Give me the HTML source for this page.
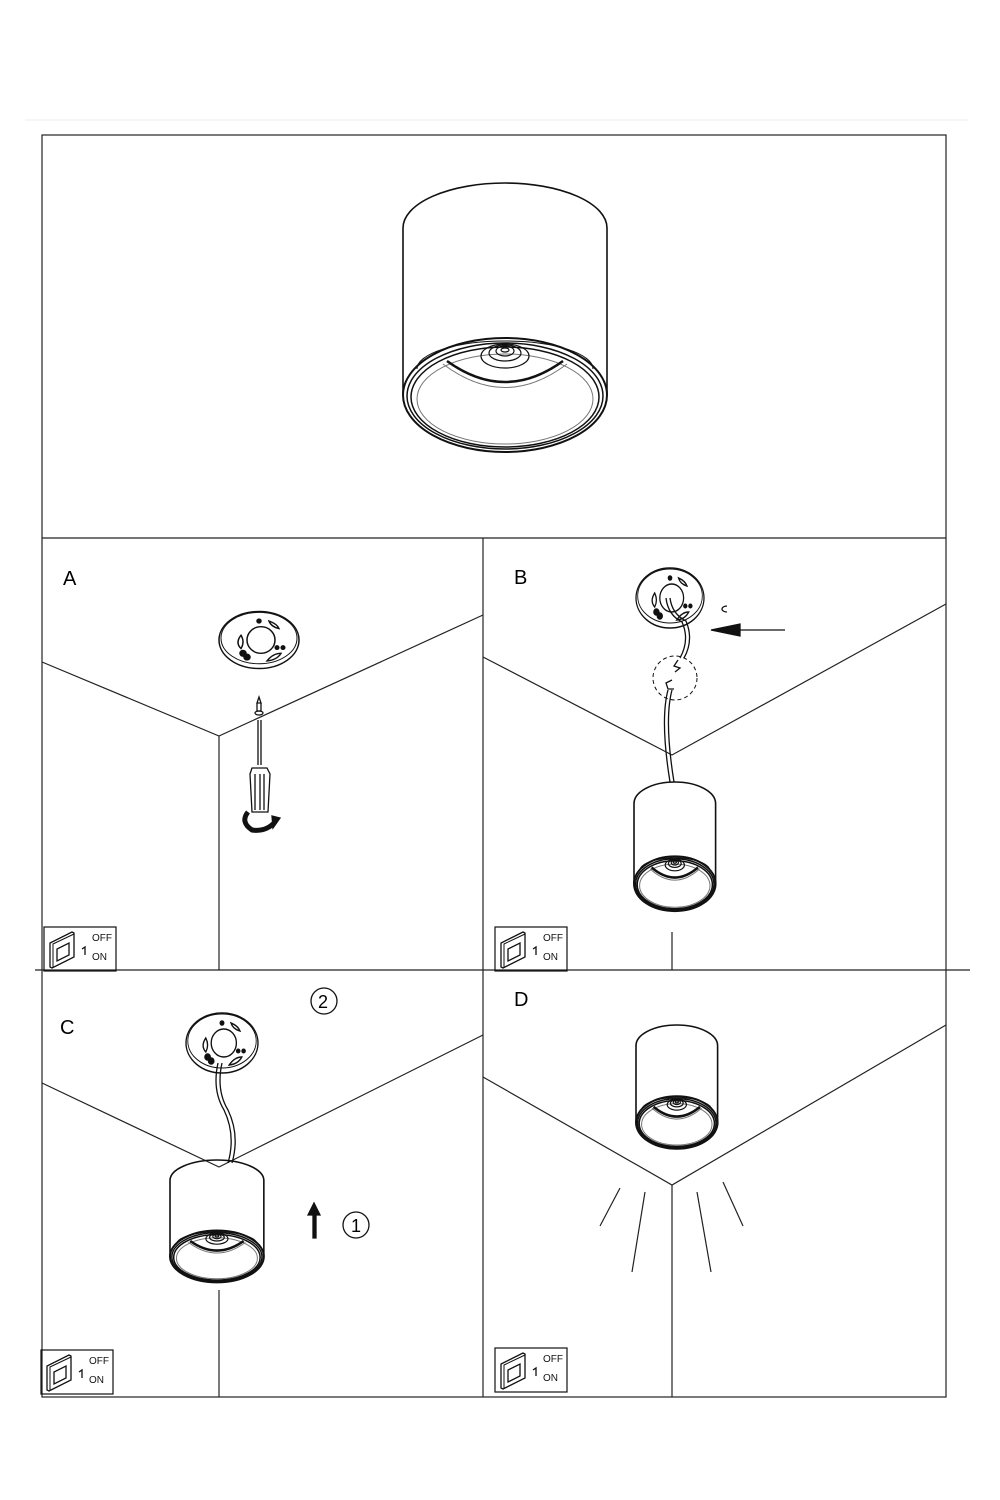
<!DOCTYPE html>
<html><head><meta charset="utf-8"><style>
html,body{margin:0;padding:0;background:#fff;}
svg{display:block;}
text{font-family:"Liberation Sans",sans-serif;}
#lamp *{vector-effect:non-scaling-stroke;}
</style></head><body>
<svg width="1000" height="1500" viewBox="0 0 1000 1500" xmlns="http://www.w3.org/2000/svg">
<defs>
<g id="lamp" fill="none" stroke="#111">
  <path d="M0,45 A102,45 0 0 1 204,45 L204,212 M0,45 L0,212" stroke-width="1.6"/>
  <ellipse cx="102" cy="212" rx="102" ry="57" stroke-width="2"/>
  <ellipse cx="102" cy="213" rx="98" ry="53" stroke-width="1.5"/>
  <ellipse cx="102" cy="214" rx="94" ry="50" stroke-width="1.5"/>
  <ellipse cx="102" cy="216" rx="88" ry="45" stroke-width="1" stroke="#777"/>
  <path d="M14,186 A88,28 0 0 1 190,186" stroke-width="1"/>
  <path d="M44,178 Q102,220 160,178" stroke-width="2.5"/>
  <path d="M40,181 Q102,228 164,181" stroke-width="1" stroke="#777"/>
  <ellipse cx="102" cy="173" rx="24" ry="12" stroke-width="1.2"/>
  <ellipse cx="102" cy="170" rx="16" ry="8" stroke-width="1.2"/>
  <ellipse cx="102" cy="168" rx="9" ry="5" stroke-width="1.2"/>
  <ellipse cx="102" cy="167" rx="4" ry="2" stroke-width="1.2"/>
</g>
<g id="canopy" fill="none" stroke="#111" stroke-width="1.5">
  <ellipse cx="0" cy="0" rx="40" ry="30"/>
  <ellipse cx="0" cy="-2" rx="38" ry="27" stroke-width="1"/>
  <circle cx="2" cy="0" r="14"/>
  <path d="M-18,-5 q-6,8 0,14 q4,-7 0,-14z"/>
  <path d="M8,22 q10,-1 14,-8 q-8,0 -14,8z"/>
  <path d="M10,-20 q8,3 10,8 q-8,-2 -10,-8z"/>
  <circle cx="-16" cy="14" r="3" fill="#111"/>
  <circle cx="-12" cy="18" r="3" fill="#111"/>
  <circle cx="18" cy="8" r="1.8" fill="#111"/>
  <circle cx="24" cy="8" r="1.8" fill="#111"/>
  <circle cx="0" cy="-20" r="2" fill="#111"/>
</g>
<g id="sw" fill="none" stroke="#111">
  <rect x="0" y="0" width="72" height="44" stroke-width="1.2"/>
  <path d="M6,40 L6,16 L28,5 L30,6 L30,30 L8,41 Z" stroke-width="1.3"/>
  <path d="M9,40 L9,17 L30,7" stroke-width="1"/>
  <path d="M13,34 L13,22 L25,16 L25,28 Z" stroke-width="1.3"/>
  <path d="M41,28 L41,20 L38,22" stroke-width="1.3"/>
  <text x="48" y="14" font-size="10" fill="#111" stroke="none">OFF</text>
  <text x="48" y="33" font-size="10" fill="#111" stroke="none">ON</text>
</g>
</defs>

<line x1="25" y1="120" x2="968" y2="120" stroke="#eee" stroke-width="1"/>
<g fill="none" stroke="#222" stroke-width="1.2">
  <rect x="42" y="135" width="904" height="1262"/>
  <line x1="42" y1="538" x2="946" y2="538"/>
  <line x1="483" y1="538" x2="483" y2="1397"/>
  <line x1="35" y1="970" x2="970" y2="970"/>
  <polyline points="42,662 219,736 483,615"/>
  <line x1="219" y1="736" x2="219" y2="970"/>
  <polyline points="483,657 672,755 946,604"/>
  <line x1="672" y1="932" x2="672" y2="970"/>
  <polyline points="42,1083 219,1167 483,1035"/>
  <line x1="219" y1="1290" x2="219" y2="1397"/>
  <polyline points="483,1077 672,1185 946,1025"/>
  <line x1="672" y1="1185" x2="672" y2="1397"/>
  <line x1="620" y1="1188" x2="600" y2="1226"/>
  <line x1="645" y1="1192" x2="632" y2="1272"/>
  <line x1="697" y1="1192" x2="711" y2="1272"/>
  <line x1="723" y1="1182" x2="743" y2="1226"/>
</g>

<use href="#lamp" transform="translate(403,183)"/>
<use href="#lamp" transform="translate(634,782) scale(0.40,0.48)"/>
<use href="#lamp" transform="translate(170,1160) scale(0.46,0.455)"/>
<use href="#lamp" transform="translate(636,1025) scale(0.40,0.46)"/>

<text x="63" y="585" font-size="20">A</text>
<text x="514" y="584" font-size="20">B</text>
<text x="60" y="1034" font-size="20">C</text>
<text x="514" y="1006" font-size="20">D</text>

<use href="#canopy" transform="translate(259,640) scale(1,0.95)"/>
<g fill="none" stroke="#111" stroke-width="1.3">
  <path d="M259,697 l-2,6 l4,0 z M257,703 l0,8 l4,0 l0,-8" />
  <ellipse cx="259" cy="713" rx="4" ry="2"/>
  <path d="M258,720 L258,765 M261,720 L261,765"/>
  <path d="M252,768 L267,768 L270,774 L268,812 L252,812 L250,774 Z"/>
  <path d="M255,774 L255,810 M260,774 L260,810 M264,774 L264,810"/>
  <path d="M248,812 Q240,822 252,830 Q266,832 275,822" stroke-width="5"/>
  <path d="M272,816 L280,818 L273,828 Z" fill="#111"/>
</g>

<use href="#canopy" transform="translate(670,598) scale(0.85,1)"/>
<g fill="none" stroke="#111" stroke-width="1.3">
  <path d="M666,598 Q668,615 682,622 Q690,640 680,658 M670,598 Q672,614 686,621 Q694,640 684,658"/>
  <path d="M678,660 l-4,6 l6,2 l-5,4"/>
  <path d="M672,680 l-6,3 l2,6 l6,0"/>
  <path d="M668,690 Q660,720 670,782 M672,690 Q664,720 674,782"/>
  <circle cx="675" cy="678" r="22" stroke-dasharray="4,3" stroke-width="1"/>
  <path d="M727,606 a5,3 0 1 0 0,6"/>
  <line x1="735" y1="630" x2="785" y2="630"/>
  <path d="M711,630 L740,624 L740,636 Z" fill="#111"/>
</g>

<use href="#canopy" transform="translate(222,1043) scale(0.9,1)"/>
<g fill="none" stroke="#111" stroke-width="1.3">
  <path d="M218,1063 Q212,1090 224,1110 Q236,1135 228,1163 M222,1063 Q216,1090 228,1110 Q240,1135 232,1163"/>
  <path d="M313,1238 L313,1215 L308,1215 L314,1203 L320,1215 L316,1215 L316,1238 Z" fill="#111"/>
  <circle cx="356" cy="1225" r="13"/>
  <circle cx="324" cy="1001" r="13"/>
</g>
<text x="351" y="1232" font-size="18">1</text>
<text x="318" y="1008" font-size="18">2</text>

<use href="#sw" transform="translate(44,927)"/>
<use href="#sw" transform="translate(495,927)"/>
<use href="#sw" transform="translate(41,1350)"/>
<use href="#sw" transform="translate(495,1348)"/>
</svg>
</body></html>
